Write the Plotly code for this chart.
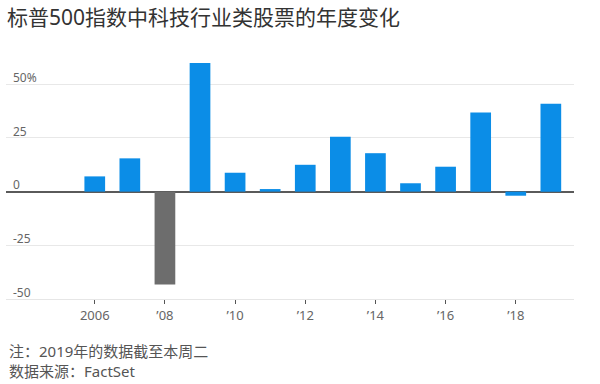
import plotly.graph_objects as go

years = [2006, 2007, 2008, 2009, 2010, 2011, 2012, 2013, 2014, 2015, 2016, 2017, 2018, 2019]
changes = [7.1, 15.5, -43.2, 59.9, 8.8, 1.2, 12.5, 25.6, 17.9, 3.9, 11.6, 36.8, -1.9, 40.9]
bar_colors = ["#0b8de7" if y != 2008 else "#6d6d6d" for y in years]

x_tick_vals = [2006, 2008, 2010, 2012, 2014, 2016, 2018]
x_tick_text = ["2006", "’08", "’10", "’12", "’14", "’16", "’18"]
y_tick_vals = [-50, -25, 0, 25, 50]
y_tick_text = ["-50", "-25", "0", "25", "50%"]

title_text = "标普500指数中科技行业类股票的年度变化"
note_text = "注：2019年的数据截至本周二"
source_text = "数据来源：FactSet"

FONT = "Noto Sans, Noto Sans CJK SC"

fig = go.Figure()
fig.add_trace(go.Bar(x=years, y=changes, marker=dict(color=bar_colors, line=dict(width=0)), width=0.59))

fig.update_layout(
    width=600, height=384,
    margin=dict(l=6, r=26, t=62, b=85),
    paper_bgcolor="white", plot_bgcolor="white",
    font=dict(family=FONT, color="#666666"),
    showlegend=False,
    title=dict(text=title_text, x=7/600, xanchor="left", xref="container",
               y=1 - 18/384, yanchor="middle", yref="container",
               font=dict(family=FONT, size=21, color="#333333")),
    xaxis=dict(range=[2003.47, 2019.66], tickvals=x_tick_vals, ticktext=x_tick_text,
               showgrid=False, zeroline=False, showline=True, linecolor="#e6e6e6", linewidth=1,
               ticks="outside", ticklen=4, tickcolor="#555555", tickwidth=1,
               tickfont=dict(family=FONT, size=13, color="#666666")),
    yaxis=dict(range=[-50, 60.37], tickvals=y_tick_vals, ticktext=y_tick_text,
               showgrid=True, gridcolor="#e8e8e8", gridwidth=1,
               zeroline=True, zerolinecolor="#5a5a5a", zerolinewidth=1.5,
               ticks="", ticklabelposition="inside top", ticklabelstandoff=4,
               ticklabelshift=2, ticklabeloverflow="allow",
               tickfont=dict(family=FONT, size=12, color="#666666")),
    annotations=[
        dict(text=note_text, xref="paper", yref="paper", x=(7-6)/568, y=(299-351)/237,
             xanchor="left", yanchor="middle", showarrow=False,
             font=dict(family=FONT, size=15, color="#555555")),
        dict(text=source_text, xref="paper", yref="paper", x=(7-6)/568, y=(299-371)/237,
             xanchor="left", yanchor="middle", showarrow=False,
             font=dict(family=FONT, size=15, color="#555555")),
    ],
)

fig.write_html("out.html", config={"displayModeBar": False},
               post_script="document.body.style.margin='0';")
